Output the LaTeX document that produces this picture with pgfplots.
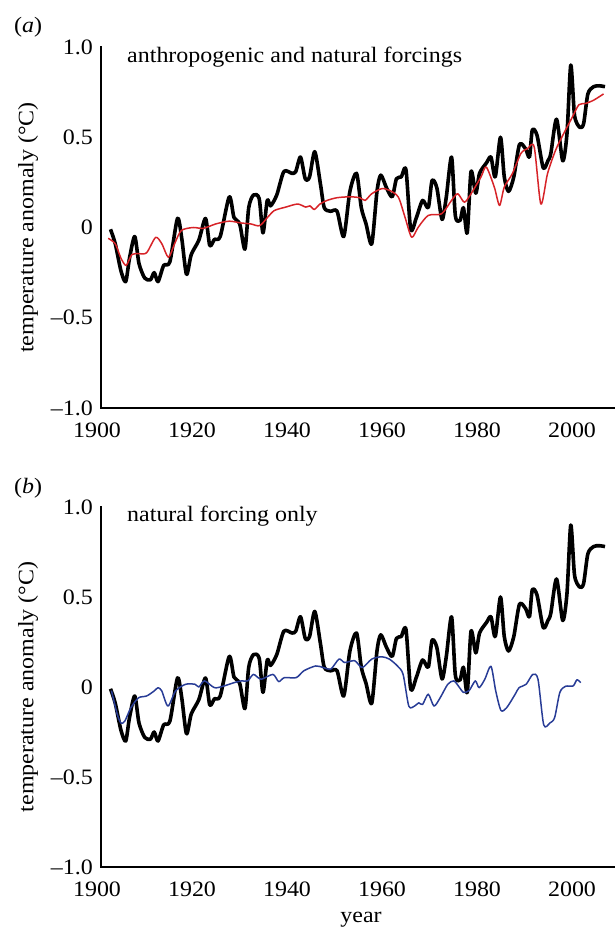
\documentclass[border=0pt]{standalone}
\usepackage{fontspec}
\setmainfont{Liberation Serif}[FakeStretch=1.09]
\usepackage{pgfplots}
\usepackage{pgfplotstable}
\pgfplotsset{compat=1.18}
\definecolor{myred}{RGB}{215,35,40}
\definecolor{myblue}{RGB}{40,60,150}
\newcommand\bigf{\fontsize{22}{26}\selectfont}

\pgfplotstableread{
year v
1902.0 -0.01
1903.0 -0.09
1904.2 -0.24
1905.2 -0.30
1906.0 -0.17
1907.1 -0.05
1908.0 -0.20
1909.2 -0.28
1910.4 -0.29
1911.2 -0.25
1912.0 -0.30
1913.2 -0.21
1914.5 -0.19
1916.1 0.05
1917.0 -0.06
1918.0 -0.26
1919.0 -0.15
1920.6 -0.07
1922.0 0.05
1922.9 -0.10
1923.9 -0.065
1925.1 -0.05
1927.0 0.17
1928.0 0.055
1929.2 0.02
1930.3 -0.12
1931.1 0.11
1932.1 0.18
1933.3 0.16
1934.1 -0.03
1935.0 0.15
1935.7 0.12
1937.0 0.18
1938.5 0.31
1940.2 0.30
1941.0 0.31
1942.0 0.39
1943.0 0.27
1943.9 0.28
1945.0 0.42
1946.2 0.24
1947.0 0.11
1948.3 0.09
1949.7 0.09
1951.1 -0.05
1952.4 0.20
1953.8 0.30
1954.8 0.11
1955.8 0.02
1957.0 -0.09
1958.1 0.20
1958.9 0.29
1960.1 0.22
1961.3 0.17
1962.2 0.27
1963.2 0.28
1964.2 0.32
1965.2 -0.01
1966.4 0.055
1967.7 0.15
1968.9 0.11
1969.7 0.26
1970.7 0.22
1971.8 0.045
1972.7 0.17
1973.8 0.39
1974.6 0.065
1975.6 0.04
1976.3 0.11
1977.1 -0.03
1977.9 0.31
1978.9 0.19
1979.7 0.30
1981.2 0.36
1982.1 0.39
1983.0 0.28
1984.1 0.50
1984.9 0.28
1985.8 0.20
1986.9 0.28
1988.1 0.46
1989.4 0.435
1990.2 0.39
1990.8 0.54
1991.8 0.51
1993.1 0.33
1994.1 0.37
1994.7 0.41
1995.9 0.60
1997.2 0.37
1998.1 0.52
1998.9 0.90
1999.7 0.62
2000.8 0.555
2001.6 0.575
2002.5 0.74
2003.7 0.78
2004.9 0.785
2006.1 0.78
}\obs

\pgfplotstableread{
year v
1901.5 -0.06
1903.0 -0.09
1904.2 -0.17
1905.3 -0.21
1906.5 -0.15
1908.0 -0.145
1909.6 -0.14
1911.5 -0.055
1912.8 -0.09
1914.2 -0.165
1915.5 -0.09
1916.9 -0.017
1919.4 0.0
1921.5 -0.005
1924.2 0.02
1927.0 0.035
1929.5 0.025
1931.5 0.02
1933.4 0.01
1935.1 0.057
1936.5 0.094
1938.9 0.113
1941.4 0.13
1943.1 0.113
1944.0 0.12
1944.9 0.10
1946.1 0.13
1947.6 0.15
1949.7 0.165
1952.4 0.17
1954.5 0.165
1955.6 0.15
1957.0 0.187
1959.1 0.215
1960.8 0.205
1962.6 0.168
1964.0 0.057
1965.4 -0.054
1966.8 0.002
1968.9 0.067
1971.7 0.076
1973.8 0.15
1975.1 0.187
1976.5 0.14
1977.9 0.187
1980.0 0.28
1981.1 0.335
1982.8 0.224
1983.9 0.122
1984.9 0.224
1986.6 0.298
1988.4 0.41
1989.8 0.437
1991.2 0.446
1992.6 0.13
1994.0 0.298
1995.7 0.428
1997.4 0.52
1999.2 0.61
2000.6 0.68
2002.0 0.687
2003.7 0.705
2005.8 0.74
}\anth

\pgfplotstableread{
year v
1902.2 -0.02
1903.4 -0.15
1904.2 -0.20
1905.0 -0.19
1906.3 -0.115
1907.9 -0.06
1909.6 -0.05
1911.2 -0.022
1912.0 -0.004
1912.8 -0.022
1914.1 -0.106
1915.7 -0.022
1917.8 0.015
1919.8 0.015
1920.6 0.0
1921.8 0.034
1923.9 -0.004
1925.9 0.006
1928.0 0.024
1929.6 0.034
1930.9 0.034
1932.1 0.07
1933.7 0.043
1936.2 0.07
1937.4 0.03
1938.6 0.052
1941.1 0.052
1942.7 0.09
1945.2 0.117
1946.8 0.108
1948.4 0.10
1950.1 0.155
1951.3 0.136
1953.4 0.146
1955.0 0.108
1957.0 0.155
1959.1 0.168
1960.7 0.155
1962.4 0.117
1963.6 0.07
1964.8 -0.106
1966.0 -0.106
1966.9 -0.088
1967.7 -0.097
1968.9 -0.04
1970.1 -0.106
1971.4 -0.06
1973.0 0.015
1974.3 0.034
1975.5 -0.004
1976.3 -0.03
1977.5 -0.02
1978.8 0.034
1979.6 -0.004
1980.8 0.043
1982.1 0.115
1983.1 -0.022
1984.2 -0.13
1985.4 -0.115
1987.2 -0.04
1988.0 -0.004
1989.5 0.015
1990.9 0.07
1992.0 0.043
1993.2 -0.21
1994.5 -0.20
1995.5 -0.17
1996.6 -0.03
1997.8 0.004
1999.4 0.006
2000.2 0.04
2001.0 0.024
}\nat

\pgfplotsset{
  panel/.style={
    scale only axis, width=513pt, height=361pt,
    xmin=1900, xmax=2008, ymin=-1, ymax=1,
    axis x line=bottom, axis y line=left,
    axis line style={line width=2.4pt, -, line cap=rect},
    xtick={1900,1920,...,2000},
    xticklabels={1900,1920,1940,1960,1980,2000},
    ytick={-1,-0.5,0,0.5,1},
    yticklabels={--1.0,--0.5,0,0.5,1.0},
    major tick length=0pt,
    tick label style={font=\bigf},
    yticklabel style={inner sep=0pt, xshift=-8pt},
    xticklabel style={inner sep=0pt, yshift=-15pt, xshift=-4pt},
    label style={font=\bigf},
    ylabel={temperature anomaly (°C)},
    ylabel style={at={(rel axis cs:0,0.5)}, anchor=center, yshift=73pt},
    clip=false,
  },
  obsline/.style={black, line width=3.6pt, smooth, tension=0.45, line join=round},
  modline/.style={line width=1.5pt, smooth, tension=0.45, line join=round},
}

\begin{document}
\begin{tikzpicture}
\path[use as bounding box] (0,0) rectangle (614pt,933pt);
\begin{axis}[panel, name=A, at={(101pt,525pt)}, anchor=south west]
  \addplot[obsline] table[x=year,y=v] {\obs};
  \addplot[modline, myred] table[x=year,y=v] {\anth};
  \node[anchor=base west, inner sep=0pt, font=\bigf, xshift=26pt, yshift=-16pt] at (rel axis cs:0,1) {anthropogenic and natural forcings};
\end{axis}
\node[anchor=base west, inner sep=0pt, font=\bigf, xshift=-87pt, yshift=14pt] at (A.north west) {(\textit{a})};

\begin{axis}[panel, name=B, at={(101pt,66pt)}, anchor=south west, height=360pt,
  xlabel={year}, xlabel style={at={(rel axis cs:0.507,0)}, anchor=base, yshift=-55pt}]
  \addplot[obsline] table[x=year,y=v] {\obs};
  \addplot[modline, myblue] table[x=year,y=v] {\nat};
  \node[anchor=base west, inner sep=0pt, font=\bigf, xshift=26pt, yshift=-15pt] at (rel axis cs:0,1) {natural forcing only};
\end{axis}
\node[anchor=base west, inner sep=0pt, font=\bigf, xshift=-87pt, yshift=13pt] at (B.north west) {(\textit{b})};
\end{tikzpicture}
\end{document}
